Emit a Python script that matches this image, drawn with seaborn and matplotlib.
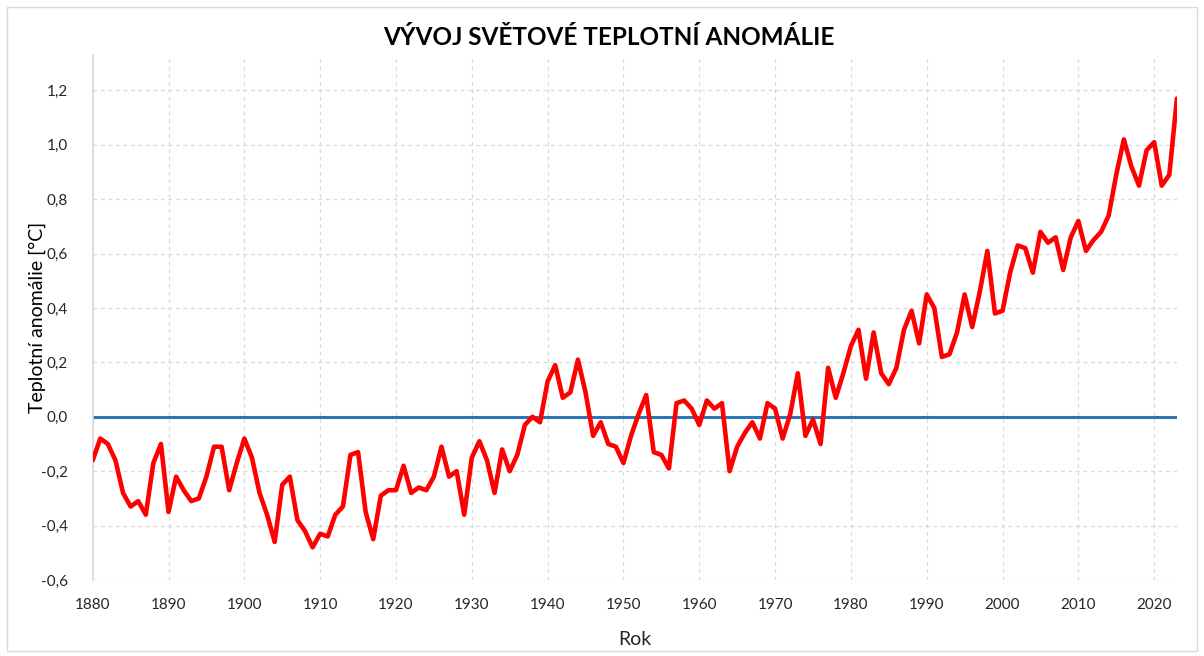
import matplotlib
matplotlib.use("Agg")
import matplotlib.pyplot as plt
import seaborn as sns
import pandas as pd
import numpy as np
from matplotlib.patches import Rectangle
from matplotlib.ticker import FuncFormatter

years = list(range(1880, 2024))
anomaly = [
    -0.16, -0.08, -0.10, -0.16, -0.28, -0.33, -0.31, -0.36, -0.17, -0.10,
    -0.35, -0.22, -0.27, -0.31, -0.30, -0.22, -0.11, -0.11, -0.27, -0.17,
    -0.08, -0.15, -0.28, -0.36, -0.46, -0.25, -0.22, -0.38, -0.42, -0.48,
    -0.43, -0.44, -0.36, -0.33, -0.14, -0.13, -0.35, -0.45, -0.29, -0.27,
    -0.27, -0.18, -0.28, -0.26, -0.27, -0.22, -0.11, -0.22, -0.20, -0.36,
    -0.15, -0.09, -0.16, -0.28, -0.12, -0.20, -0.14, -0.03, 0.00, -0.02,
    0.13, 0.19, 0.07, 0.09, 0.21, 0.09, -0.07, -0.02, -0.10, -0.11,
    -0.17, -0.07, 0.01, 0.08, -0.13, -0.14, -0.19, 0.05, 0.06, 0.03,
    -0.03, 0.06, 0.03, 0.05, -0.20, -0.11, -0.06, -0.02, -0.08, 0.05,
    0.03, -0.08, 0.01, 0.16, -0.07, -0.01, -0.10, 0.18, 0.07, 0.16,
    0.26, 0.32, 0.14, 0.31, 0.16, 0.12, 0.18, 0.32, 0.39, 0.27,
    0.45, 0.40, 0.22, 0.23, 0.31, 0.45, 0.33, 0.46, 0.61, 0.38,
    0.39, 0.53, 0.63, 0.62, 0.53, 0.68, 0.64, 0.66, 0.54, 0.66,
    0.72, 0.61, 0.65, 0.68, 0.74, 0.89, 1.02, 0.92, 0.85, 0.98,
    1.01, 0.85, 0.89, 1.17,
]
x_ticks = list(range(1880, 2030, 10))
y_ticks = [-0.6, -0.4, -0.2, 0.0, 0.2, 0.4, 0.6, 0.8, 1.0, 1.2]

title = "VÝVOJ SVĚTOVÉ TEPLOTNÍ ANOMÁLIE"
xlabel = "Rok"
ylabel = "Teplotní anomálie [°C]"

sns.set_theme(style="white")
plt.rcParams['font.family'] = ['Lato', 'DejaVu Sans']

df = pd.DataFrame({"Rok": years, "Anomálie": anomaly})

fig = plt.figure(figsize=(12.04, 6.56), dpi=100)
ax = fig.add_axes([0.077, 0.1159, 0.9005, 0.8001])

# outer light border
fig.patches.append(Rectangle((0.006, 0.008), 0.988, 0.982, transform=fig.transFigure,
                             fill=False, edgecolor="#d9d9d9", linewidth=1.0))

ax.axhline(0, color="#2E75B6", linewidth=2.2, zorder=2)
sns.lineplot(data=df, x="Rok", y="Anomálie", ax=ax, color="#FF0000",
             linewidth=3.3, zorder=3)

ax.set_xlim(1880, 2023)
ax.set_ylim(-0.6, 1.33)
ax.set_xticks(x_ticks)
ax.set_yticks(y_ticks)
ax.yaxis.set_major_formatter(FuncFormatter(lambda v, p: f"{v:.1f}".replace(".", ",").replace("-0,0", "0,0")))

ax.grid(True, which="major", color="#d9d9d9", linestyle=(0, (3, 3)), linewidth=0.9)
ax.set_axisbelow(True)
for s in ["top", "right", "bottom"]:
    ax.spines[s].set_visible(False)
ax.spines["left"].set_color("#d9d9d9")
ax.spines["left"].set_linewidth(1.2)

ax.tick_params(axis="y", length=0, labelsize=11, colors="#262626", pad=18)
ax.tick_params(axis="x", length=0, labelsize=11, colors="#262626", pad=13)
ax.set_xlabel(xlabel, fontsize=14, color="#262626", labelpad=14)
ax.set_ylabel(ylabel, fontsize=14, color="#000000")
ax.yaxis.set_label_coords(-0.043, 0.5)

fig.suptitle(title, fontsize=17.5, fontweight="bold", y=0.96, x=0.506, color="#000000")

fig.savefig("out.png", dpi=100)
